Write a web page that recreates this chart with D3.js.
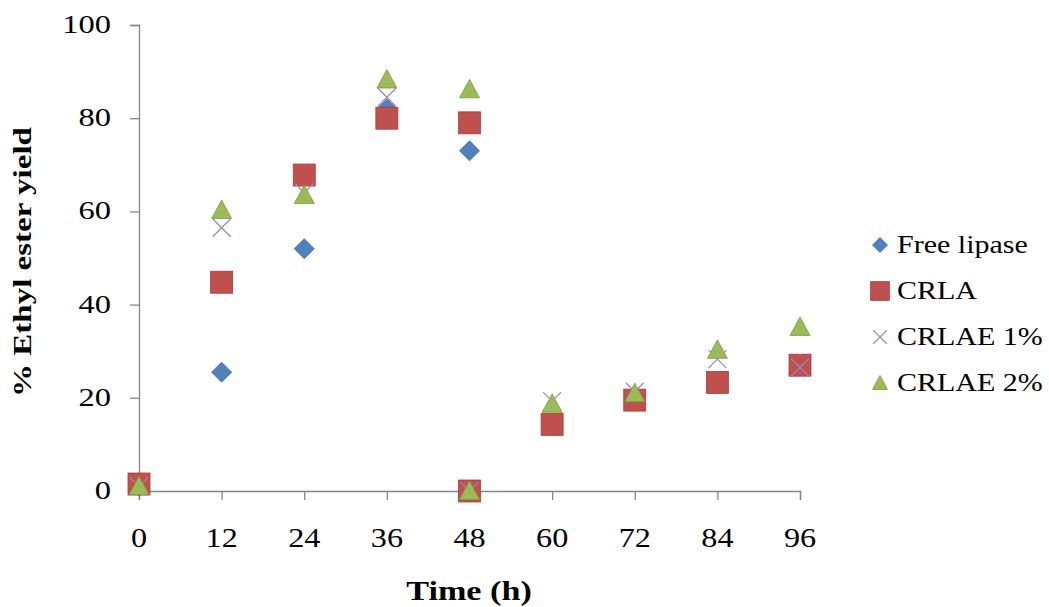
<!DOCTYPE html>
<html><head><meta charset="utf-8">
<script src="https://cdn.jsdelivr.net/npm/d3@7"></script>
<style>body{margin:0;background:#fff}svg{display:block}</style>
</head><body>
<script>
const xTicks = [0, 12, 24, 36, 48, 60, 72, 84, 96];
const yTicks = [0, 20, 40, 60, 80, 100];
const seriesNames = ["Free lipase", "CRLA", "CRLAE 1%", "CRLAE 2%"];
const freeLipase = [[0, 1], [12, 25.5], [24, 52], [36, 82], [48, 73]];
const crla = [[0, 1.5], [12, 44.8], [24, 67.8], [36, 80], [48, 79], [48, 0], [60, 14.3], [72, 19.5], [84, 23.3], [96, 27]];
const crlae1 = [[0, 1], [12, 56.5], [24, 64], [36, 84.5], [48, 0], [60, 19.3], [72, 21.3], [84, 28.3], [96, 26.5]];
const crlae2 = [[0, 1], [12, 60.3], [24, 63.5], [36, 88.3], [48, 86.2], [48, 0], [60, 18.7], [72, 21], [84, 30.3], [96, 35.2]];

const W = 1049, H = 607;
const svg = d3.select("body").append("svg").attr("width", W).attr("height", H);
const x = d3.scaleLinear().domain([0, 96]).range([139, 800]);
const y = d3.scaleLinear().domain([0, 100]).range([491, 25]);

const font = "'Liberation Serif','Times New Roman',serif";

// axes (lines + ticks via d3 axes, labels drawn stretched)
const yAxis = svg.append("g").attr("transform", "translate(139,0)")
  .call(d3.axisLeft(y).tickValues(yTicks).tickSize(9).tickFormat(""));
const xAxis = svg.append("g").attr("transform", "translate(0,491)")
  .call(d3.axisBottom(x).tickValues(xTicks).tickSize(9).tickFormat(""));
[yAxis, xAxis].forEach(g => {
  g.select(".domain").attr("stroke", "#868686").attr("stroke-width", 1.3);
  g.selectAll(".tick line").attr("stroke", "#868686").attr("stroke-width", 1.3);
});

function stext(px, py, str, size, sx, anchor, bold, rot) {
  const t = svg.append("text")
    .attr("transform", `translate(${px},${py})` + (rot ? ` rotate(${rot})` : "") + ` scale(${sx},1)`)
    .attr("text-anchor", anchor).attr("font-family", font).attr("font-size", size)
    .attr("fill", "#000").text(str);
  if (bold) t.attr("font-weight", "bold");
  return t;
}

yTicks.forEach(v => stext(111, y(v) + 8, v, 25, 1.3, "end", false));
xTicks.forEach(v => stext(x(v), 547, v, 28, 1.15, "middle", false));

// axis titles
stext(469, 600, "Time (h)", 28, 1.22, "middle", true);
stext(31, 262, "% Ethyl ester yield", 26, 1.27, "middle", true, -90);

const colors = ["#4F81BD", "#C0504D", "#8064A2", "#9BBB59"];
const strokes = ["#3C6A9E", "#A33F3C", "#8064A2", "#7E9C44"];

function marker(g, i, cx, cy, s) {
  if (i === 0) {
    const r = 10 * s;
    g.append("path").attr("d", `M${cx},${cy - r}L${cx + r},${cy}L${cx},${cy + r}L${cx - r},${cy}Z`)
      .attr("fill", colors[0]).attr("stroke", strokes[0]).attr("stroke-width", 0.8);
  } else if (i === 1) {
    const h = 11 * s;
    g.append("rect").attr("x", cx - h).attr("y", cy - h).attr("width", 2 * h).attr("height", 2 * h)
      .attr("fill", colors[1]).attr("stroke", strokes[1]).attr("stroke-width", 0.8);
  } else if (i === 2) {
    const h = 9 * s;
    g.append("path").attr("d", `M${cx - h},${cy - h}L${cx + h},${cy + h}M${cx - h},${cy + h}L${cx + h},${cy - h}`)
      .attr("stroke", "#9B85C0").attr("stroke-width", 1.2).attr("fill", "none");
  } else {
    const h = 10 * s;
    g.append("path").attr("d", `M${cx},${cy - h}L${cx + h},${cy + h * 0.85}L${cx - h},${cy + h * 0.85}Z`)
      .attr("fill", colors[3]).attr("stroke", strokes[3]).attr("stroke-width", 0.8);
  }
}

const allSeries = [freeLipase, crla, crlae1, crlae2];
allSeries.forEach((data, i) => {
  const g = svg.append("g");
  data.forEach(d => marker(g, i, x(d[0]), y(d[1]), 1));
});

// legend
const legendY = [245, 291, 337, 383];
seriesNames.forEach((name, i) => {
  const g = svg.append("g");
  marker(g, i, 880, legendY[i], i === 1 ? 0.85 : 0.75);
  stext(897, legendY[i] + 8, name, 25, 1.2, "start", false);
});
</script>
</body></html>
